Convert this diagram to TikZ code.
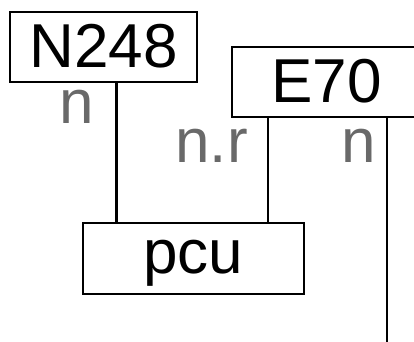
\documentclass[tikz,border=0pt]{standalone}
\usepackage{fontspec}
\setmainfont{Liberation Sans}
\definecolor{lblgray}{RGB}{105,105,105}
\begin{document}
\begin{tikzpicture}[x=0.75pt,y=-0.75pt,
  box/.style={draw,line width=1.8pt,inner sep=0pt,font=\fontsize{46.5pt}{50pt}\selectfont},
  lbl/.style={inner sep=0pt,anchor=base east,text=lblgray,font=\fontsize{46.5pt}{50pt}\selectfont},
  conn/.style={line width=1.8pt}]
\useasboundingbox (0,0) rectangle (414,342);
\clip (0,0) rectangle (414,342);
\node[box,minimum width=140.25pt,minimum height=52.5pt,text height=31.5pt,text depth=0pt] (N248) at (103.5,47) {N248};
\node[box,minimum width=141.75pt,minimum height=52.5pt,text height=31.5pt,text depth=0pt] (E70) at (326.5,82) {E70};
\node[box,minimum width=165.75pt,minimum height=53.25pt,text height=21.75pt,text depth=0pt] (pcu) at (193.5,258.5) {pcu};
\coordinate (bot) at (387,345);
\draw[conn] (N248.south -| 116.5,0) -- (pcu.north -| 116.5,0);
\draw[conn] (E70.south -| 268,0) -- (pcu.north -| 268,0);
\draw[conn] (E70.south -| bot) -- (bot);
\node[lbl] (l1) at (94,124) {n};
\node[lbl] (l2) at (248,163) {n.r};
\node[lbl] (l3) at (376,163) {n};
\end{tikzpicture}
\end{document}
